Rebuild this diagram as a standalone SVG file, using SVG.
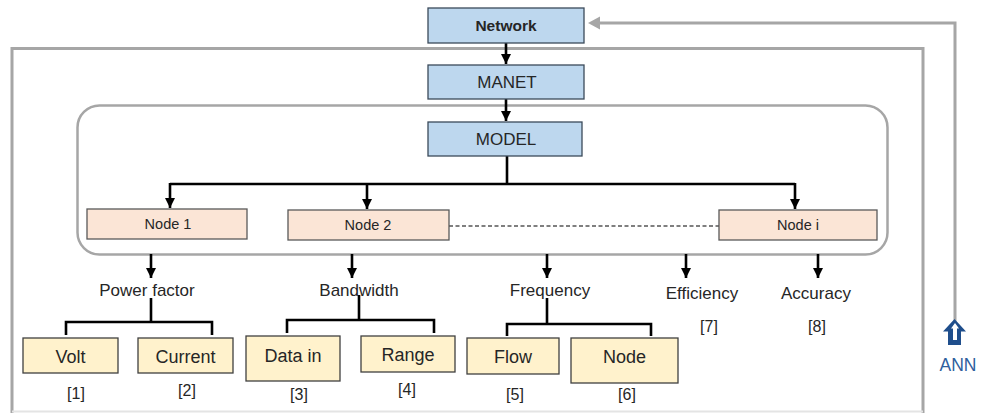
<svg xmlns="http://www.w3.org/2000/svg" width="984" height="413" viewBox="0 0 984 413">
<defs>
<style>
.t{font-family:"Liberation Sans",Arial,sans-serif;fill:#262626;text-anchor:middle}
.lab{font-size:17px}
.ref{font-size:16px}
.box{font-size:18px}
.nd{font-size:14.5px}
.blue{fill:#bdd7ee;stroke:#3b4a5a;stroke-width:1.3}
.pink{fill:#fbe5d6;stroke:#595959;stroke-width:1.3}
.yel{fill:#fff2cc;stroke:#404040;stroke-width:1.3}
.c{fill:none;stroke:#000;stroke-width:2.6}
.g{fill:none;stroke:#a6a6a6;stroke-width:3}
</style>
<marker id="ah" markerWidth="11" markerHeight="11" refX="10" refY="5.5" orient="auto" markerUnits="userSpaceOnUse">
<path d="M0,0.5 L10,5.5 L0,10.5 Z" fill="#000"/>
</marker>
</defs>
<rect width="984" height="413" fill="#fff"/>

<g id="frame">
<path class="g" d="M12,413 V48.5 H923 V413"/>
<line x1="12" y1="411.5" x2="923" y2="411.5" stroke="#e4e4e4" stroke-width="2"/>
<rect x="77.5" y="105.5" width="810" height="149" rx="22" ry="22" fill="none" stroke="#a6a6a6" stroke-width="2.5"/>
</g>

<g id="connectors">
<line class="c" x1="506" y1="43" x2="506" y2="64" marker-end="url(#ah)"/>
<line class="c" x1="506" y1="99" x2="506" y2="121" marker-end="url(#ah)"/>
<path class="c" d="M507,156 V184"/>
<path class="c" d="M170,184 H795"/>
<line class="c" x1="170" y1="183" x2="170" y2="208" marker-end="url(#ah)"/>
<line class="c" x1="367" y1="183" x2="367" y2="209" marker-end="url(#ah)"/>
<line class="c" x1="795" y1="183" x2="795" y2="209" marker-end="url(#ah)"/>
<line x1="449" y1="226" x2="719" y2="226" stroke="#000" stroke-width="1.2" stroke-dasharray="4,2.5"/>
<line class="c" x1="151" y1="254" x2="151" y2="278" marker-end="url(#ah)"/>
<line class="c" x1="352" y1="254" x2="352" y2="278" marker-end="url(#ah)"/>
<line class="c" x1="547" y1="254" x2="547" y2="278" marker-end="url(#ah)"/>
<line class="c" x1="686" y1="254" x2="686" y2="278" marker-end="url(#ah)"/>
<line class="c" x1="818" y1="254" x2="818" y2="278" marker-end="url(#ah)"/>
<path class="c" d="M151,298 V322 M66,335 V322 H212 V335"/>
<path class="c" d="M359,295 V320 M287,333 V320 H434 V333"/>
<path class="c" d="M547,298 V324 M507,336 V324 H651 V336"/>
<path class="g" d="M955,343 V23 H598" stroke-width="3.2"/>
<path d="M588,23 L600,16.5 L600,29.5 Z" fill="#a6a6a6"/>
</g>

<g id="network">
<rect class="blue" x="428" y="8" width="156" height="35"/>
<text class="t" x="506" y="31" font-size="15.5" font-weight="bold">Network</text>
</g>
<g id="manet">
<rect class="blue" x="428" y="65" width="156" height="34"/>
<text class="t lab" x="507" y="88">MANET</text>
</g>
<g id="model">
<rect class="blue" x="428" y="122" width="154" height="34"/>
<text class="t lab" x="506" y="145">MODEL</text>
</g>

<g id="node1">
<rect class="pink" x="87" y="209" width="160" height="30"/>
<text class="t nd" x="168" y="229">Node 1</text>
</g>
<g id="node2">
<rect class="pink" x="288" y="210" width="161" height="30"/>
<text class="t nd" x="368" y="230">Node 2</text>
</g>
<g id="nodei">
<rect class="pink" x="719" y="210" width="158" height="30"/>
<text class="t nd" x="798" y="230">Node i</text>
</g>

<g id="power-factor"><text class="t lab" x="147" y="296">Power factor</text></g>
<g id="bandwidth"><text class="t lab" x="359" y="296">Bandwidth</text></g>
<g id="frequency"><text class="t lab" x="550" y="296">Frequency</text></g>
<g id="efficiency"><text class="t lab" x="702" y="299">Efficiency</text><text class="t ref" x="709" y="332">[7]</text></g>
<g id="accuracy"><text class="t lab" x="816" y="299">Accuracy</text><text class="t ref" x="817" y="332">[8]</text></g>

<g id="volt">
<rect class="yel" x="23" y="338" width="95" height="35"/>
<text class="t box" x="70.5" y="363">Volt</text>
<text class="t ref" x="76" y="399">[1]</text>
</g>
<g id="current">
<rect class="yel" x="138" y="338" width="95" height="35"/>
<text class="t box" x="185.5" y="363">Current</text>
<text class="t ref" x="187" y="396">[2]</text>
</g>
<g id="data-in">
<rect class="yel" x="246" y="336" width="94" height="45"/>
<text class="t box" x="293" y="362">Data in</text>
<text class="t ref" x="299" y="400">[3]</text>
</g>
<g id="range">
<rect class="yel" x="361" y="336" width="94" height="36"/>
<text class="t box" x="408" y="361">Range</text>
<text class="t ref" x="407" y="395">[4]</text>
</g>
<g id="flow">
<rect class="yel" x="467" y="338" width="92" height="36"/>
<text class="t box" x="513" y="363">Flow</text>
<text class="t ref" x="515" y="400">[5]</text>
</g>
<g id="node">
<rect class="yel" x="571" y="338" width="107" height="45"/>
<text class="t box" x="624.5" y="363">Node</text>
<text class="t ref" x="627" y="400">[6]</text>
</g>

<g id="ann">
<path d="M954.5,319 L966,331.5 L961,331.5 L961,345 L948,345 L948,331.5 L943,331.5 Z" fill="#1f4e8c"/>
<path d="M955,323 L959,328.5 L957,328.5 L957,340 L953,340 L953,328.5 L951,328.5 Z" fill="#ffffff"/>
<text x="958" y="371" font-size="17.5" font-family="Liberation Sans,Arial,sans-serif" fill="#2f5f9e" text-anchor="middle">ANN</text>
</g>
</svg>
